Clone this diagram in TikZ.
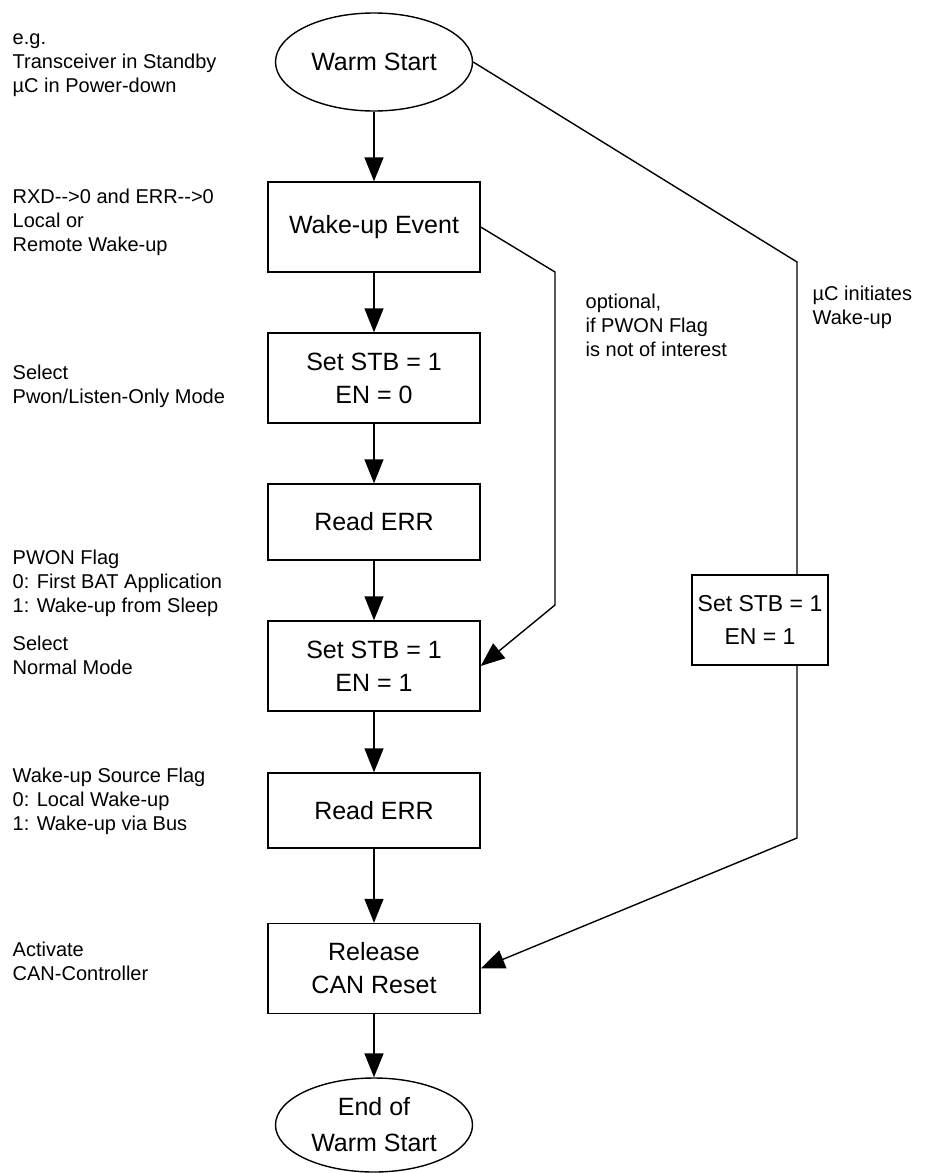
\documentclass[tikz,border=0pt]{standalone}
\usepackage{fontspec}
\setmainfont{Liberation Sans}
\usetikzlibrary{shapes.geometric,arrows.meta}
\begin{document}
\begin{tikzpicture}[x=1pt,y=-1pt,line width=1.4pt,
  >={Triangle[length=24pt,width=19pt]},
  stepbox/.style={draw,rectangle,minimum width=212pt,minimum height=90pt,inner sep=0pt,
    font=\fontsize{25}{33}\selectfont,align=center},
  term/.style={draw,ellipse,minimum width=197pt,minimum height=98pt,inner sep=0pt,
    font=\fontsize{25}{36}\selectfont,align=center},
  note/.style={anchor=north west,inner sep=0pt,align=left,
    font=\fontsize{20}{24}\selectfont}]
\useasboundingbox (0,0) rectangle (935,1173);
% main column
\node[term] (ws) at (374,62) {Warm Start};
\node[stepbox] (wk) at (374,227) {Wake-up Event};
\node[stepbox] (s1) at (374,378) {Set STB = 1\\EN = 0};
\node[stepbox,minimum height=76pt] (r1) at (374,522) {Read ERR};
\node[stepbox] (s2) at (374,666) {Set STB = 1\\EN = 1};
\node[stepbox,minimum height=75pt] (r2) at (374,810.5) {Read ERR};
\node[stepbox] (rel) at (374,968.5) {Release\\CAN Reset};
\node[term,minimum height=94pt] (end) at (374,1125) {End of\\Warm Start};
% right branch box
\node[stepbox,minimum width=136pt,font=\fontsize{23}{33}\selectfont] (rb) at (760,620) {Set STB = 1\\EN = 1};
% bend points
\coordinate (c1) at (797,262);
\coordinate (c2) at (797,838);
\coordinate (o1) at (555,272);
\coordinate (o2) at (555,605);
% connectors
\draw[->] (ws) -- (wk);
\draw[->] (wk) -- (s1);
\draw[->] (s1) -- (r1);
\draw[->] (r1) -- (s2);
\draw[->] (s2) -- (r2);
\draw[->] (r2) -- (rel);
\draw[->] (rel) -- (end);
\draw (ws.east) -- (c1) -- (c1 |- rb.north);
\draw[->] (c1 |- rb.south) -- (c2) -- (rel.east);
\draw[->] (wk.east) -- (o1) -- (o2) -- (s2.east);
% annotations
\node[note] (n1) at (12,27) {\strut e.g.\\Transceiver in Standby\\µC in Power-down};
\node[note] (n2) at (12,186) {\strut RXD-\kern0pt-\kern0pt>0 and ERR-\kern0pt-\kern0pt>0\\Local or\\Remote Wake-up};
\node[note] (n3) at (12,362) {\strut Select\\Pwon/Listen-Only Mode};
\node[note] (n4) at (12,547) {\strut PWON Flag\\0: First BAT Application\\1: Wake-up from Sleep};
\node[note] (n5) at (12,633) {\strut Select\\Normal Mode};
\node[note] (n6) at (12,765) {\strut Wake-up Source Flag\\0: Local Wake-up\\1: Wake-up via Bus};
\node[note] (n7) at (12,939) {\strut Activate\\CAN-Controller};
\node[note] (n8) at (812,283) {\strut µC initiates\\Wake-up};
\node[note] (n9) at (585,291) {\strut optional,\\if PWON Flag\\is not of interest};
\end{tikzpicture}
\end{document}
